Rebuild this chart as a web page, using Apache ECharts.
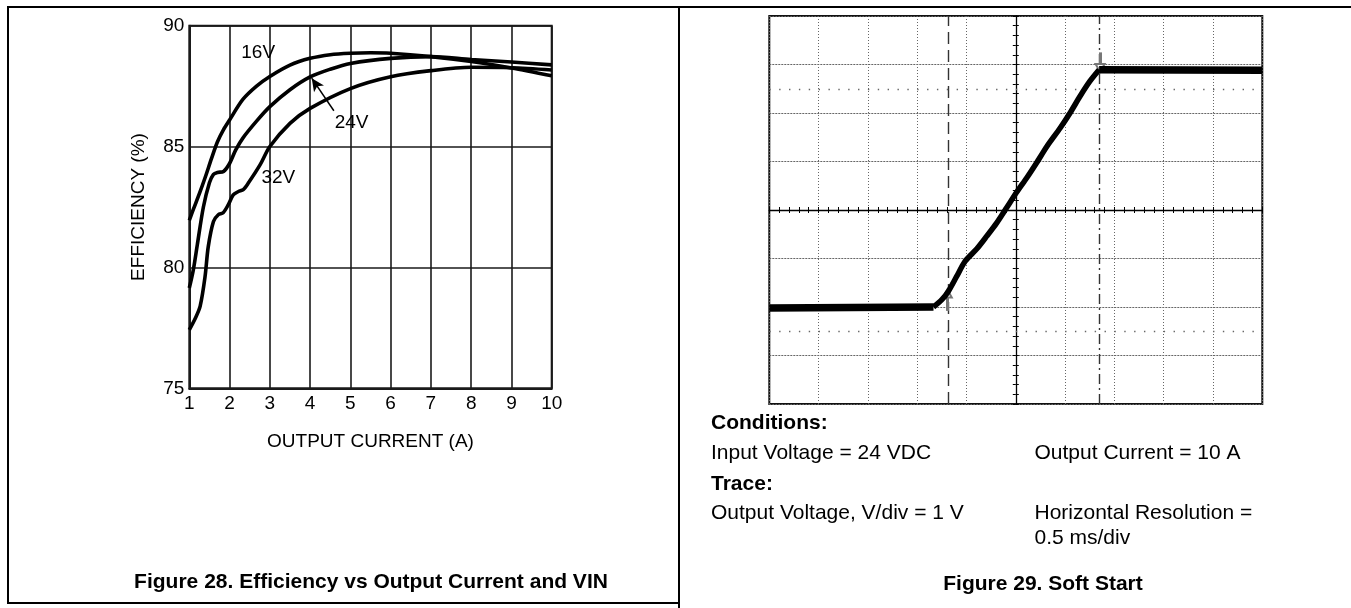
<!DOCTYPE html>
<html><head><meta charset="utf-8">
<script src="https://cdn.jsdelivr.net/npm/echarts/dist/echarts.min.js"></script>
<style>html,body{margin:0;padding:0;background:#fff}#c{width:1351px;height:608px}</style>
</head><body><div id="c"></div>
<script>
// ---------- Figure 28 data (efficiency vs output current) ----------
const seriesNames = ['16V', '24V', '32V'];
const cur16 = [1.0, 1.1, 1.25, 1.4, 1.55, 1.7, 1.85, 2.0, 2.33, 2.67, 3.0, 3.5, 4.0, 4.5, 5.0, 5.5, 6.0, 7.0, 8.0, 9.0, 10.0];
const eff16 = [81.95, 82.4, 83.05, 83.75, 84.5, 85.2, 85.7, 86.1, 86.95, 87.5, 87.9, 88.37, 88.65, 88.8, 88.86, 88.88, 88.86, 88.72, 88.52, 88.25, 87.93];
const cur24 = [1.0, 1.1, 1.2, 1.35, 1.5, 1.6, 1.7, 1.85, 2.0, 2.15, 2.33, 2.67, 3.0, 3.5, 4.0, 4.5, 5.0, 6.0, 7.0, 8.0, 9.0, 10.0];
const eff24 = [79.15, 79.9, 80.95, 82.5, 83.5, 83.85, 83.93, 83.97, 84.3, 84.85, 85.35, 86.05, 86.65, 87.35, 87.88, 88.2, 88.44, 88.65, 88.72, 88.6, 88.5, 88.38];
const cur32 = [1.0, 1.15, 1.27, 1.39, 1.47, 1.6, 1.72, 1.84, 1.97, 2.09, 2.22, 2.34, 2.47, 2.76, 3.0, 3.5, 4.0, 5.0, 6.0, 7.0, 8.0, 9.0, 10.0];
const eff32 = [77.42, 77.9, 78.4, 79.6, 80.85, 81.9, 82.18, 82.26, 82.6, 83.0, 83.14, 83.22, 83.5, 84.25, 85.0, 85.96, 86.58, 87.4, 87.89, 88.14, 88.28, 88.26, 88.17];
const labelCur = [2.71, 5.03, 3.21];
const labelEff = [88.89, 85.97, 83.69];
const arrow24From = [4.59, 86.48];
const arrow24To = [4.04, 87.83];
const currentTicks = [1, 10, 1];   // min, max, step (A)
const effTicks = [75, 90, 5];      // min, max, step (%)

// ---------- Figure 29 data (soft start scope trace) ----------
const traceTimeMs = [-2.5, -0.835, -0.75, -0.685, -0.6, -0.515, -0.395, -0.295, -0.195, -0.095, 0.01, 0.11, 0.21, 0.315, 0.45, 0.55, 0.65, 0.75, 0.845, 2.5];
const traceVolt   = [-2.02, -2.0, -1.85, -1.68, -1.37, -1.06, -0.8, -0.54, -0.27, 0.04, 0.37, 0.66, 0.97, 1.31, 1.69, 2.0, 2.34, 2.65, 2.89, 2.88];
const cursorStartMs = -0.695;
const cursorEndMs = 0.855;
const arrowUp = [[-0.695, -2.08], [-0.695, -1.72]];
const arrowDown = [[0.855, 3.25], [0.855, 2.93]];
const scopeTime = [-2.5, 2.5, 0.5];  // ms, 0.5 ms/div
const scopeVolt = [-4, 4, 1];        // V, 1 V/div
const dotRows = [2.5, -2.5];

const FONT = '"Liberation Sans", Arial, sans-serif';
const zip = (a, b) => a.map((v, i) => [v, b[i]]);
const trace = zip(traceTimeMs, traceVolt);
const n = trace.length;

const chart = echarts.init(document.getElementById('c'), null, {renderer: 'canvas'});

const effLine = (name, xs, ys, extra) => Object.assign({
  name, type: 'line', xAxisIndex: 0, yAxisIndex: 0, data: zip(xs, ys),
  symbol: 'none', smooth: 0.3, lineStyle: {color: '#000', width: 3.6}, z: 4
}, extra || {});

const scopeLine = (data, width, smooth, extra) => Object.assign({
  type: 'line', xAxisIndex: 1, yAxisIndex: 1, data, symbol: 'none', smooth,
  lineStyle: {color: '#000', width}, z: 5
}, extra || {});

const option = {
  animation: false,
  backgroundColor: '#fff',
  grid: [
    {left: 189.3, right: 1351 - 551.7, top: 25.7, bottom: 608 - 388.3, show: true, borderColor: '#1a1a1a', borderWidth: 2, backgroundColor: 'transparent'},
    {left: 769.3, right: 1351 - 1262.3, top: 16, bottom: 608 - 404, show: true, borderColor: '#111', borderWidth: 2, backgroundColor: 'transparent'}
  ],
  xAxis: [
    {gridIndex: 0, type: 'value', min: currentTicks[0], max: currentTicks[1], interval: currentTicks[2],
      axisLine: {show: true, lineStyle: {color: '#1a1a1a', width: 2}}, axisTick: {show: false},
      axisLabel: {fontSize: 19, color: '#000', margin: 6, fontFamily: FONT},
      splitLine: {show: true, lineStyle: {color: '#1a1a1a', width: 1.6}},
      name: 'OUTPUT CURRENT (A)', nameLocation: 'middle', nameGap: 44,
      nameTextStyle: {fontSize: 19, color: '#000', fontFamily: FONT}},
    {gridIndex: 1, type: 'value', min: scopeTime[0], max: scopeTime[1], interval: scopeTime[2],
      axisLine: {show: true, onZero: true, lineStyle: {color: '#000', width: 1.3}},
      axisTick: {show: true, length: 3, lineStyle: {color: '#000', width: 1}},
      minorTick: {show: true, splitNumber: 5, length: 3, lineStyle: {color: '#000', width: 1}},
      axisLabel: {show: false},
      splitLine: {show: true, lineStyle: {color: '#666', width: 1, type: [1, 2]}}},
    {gridIndex: 1, type: 'value', min: scopeTime[0], max: scopeTime[1], interval: scopeTime[2], position: 'bottom', offset: -194,
      axisLine: {show: false, onZero: false},
      axisTick: {show: true, inside: true, length: 3, lineStyle: {color: '#000', width: 1}},
      minorTick: {show: true, splitNumber: 5, length: 3, lineStyle: {color: '#000', width: 1}},
      axisLabel: {show: false}, splitLine: {show: false}}
  ],
  yAxis: [
    {gridIndex: 0, type: 'value', min: effTicks[0], max: effTicks[1], interval: effTicks[2],
      axisLine: {show: true, lineStyle: {color: '#1a1a1a', width: 2}}, axisTick: {show: false},
      axisLabel: {fontSize: 19, color: '#000', margin: 5, fontFamily: FONT},
      splitLine: {show: true, lineStyle: {color: '#1a1a1a', width: 1.6}},
      name: 'EFFICIENCY (%)', nameLocation: 'middle', nameGap: 41, nameRotate: 90,
      nameTextStyle: {fontSize: 19, color: '#000', fontFamily: FONT}},
    {gridIndex: 1, type: 'value', min: scopeVolt[0], max: scopeVolt[1], interval: scopeVolt[2],
      axisLine: {show: true, onZero: true, lineStyle: {color: '#000', width: 1.3}},
      axisTick: {show: true, length: 3, lineStyle: {color: '#000', width: 1}},
      minorTick: {show: true, splitNumber: 5, length: 3, lineStyle: {color: '#000', width: 1}},
      axisLabel: {show: false},
      splitLine: {show: true, lineStyle: {color: '#666', width: 1, type: [2, 1]}}},
    {gridIndex: 1, type: 'value', min: scopeVolt[0], max: scopeVolt[1], interval: scopeVolt[2], position: 'left', offset: -246.5,
      axisLine: {show: false, onZero: false},
      axisTick: {show: true, inside: true, length: 3, lineStyle: {color: '#000', width: 1}},
      minorTick: {show: true, splitNumber: 5, length: 3, lineStyle: {color: '#000', width: 1}},
      axisLabel: {show: false}, splitLine: {show: false}}
  ],
  series: [
    effLine(seriesNames[0], cur16, eff16),
    effLine(seriesNames[1], cur24, eff24, {
      markLine: {silent: true, symbol: ['none', 'arrow'], symbolSize: [9, 13], label: {show: false},
        lineStyle: {color: '#000', width: 1.5, type: 'solid'},
        data: [[{coord: arrow24From}, {coord: arrow24To}]]}
    }),
    effLine(seriesNames[2], cur32, eff32, {
      markPoint: {silent: true, symbol: 'circle', symbolSize: 0, itemStyle: {color: '#000'},
        label: {show: true, position: 'inside', formatter: p => p.name, fontSize: 19, color: '#000',
          textBorderWidth: 0, fontFamily: FONT},
        data: seriesNames.map((nm, i) => ({name: nm, coord: [labelCur[i], labelEff[i]]}))}
    }),
    // noisy flat levels drawn as a thicker band, the ramp a little thinner
    scopeLine(trace.slice(0, 2), 7.5, false),
    scopeLine(trace.slice(n - 2), 7.5, false),
    scopeLine(trace.slice(1, n - 1), 5.5, 0.25, {
      markLine: {silent: true, symbol: ['none', 'none'], label: {show: false}, animation: false,
        data: [
          {xAxis: cursorStartMs, lineStyle: {color: '#333', width: 1.4, type: [12, 6]}},
          {xAxis: cursorEndMs, lineStyle: {color: '#333', width: 1.4, type: [10, 4, 2, 4]}},
          {yAxis: dotRows[0], lineStyle: {color: '#666', width: 1.4, type: [1.4, 8.46]}},
          {yAxis: dotRows[1], lineStyle: {color: '#666', width: 1.4, type: [1.4, 8.46]}}
        ]}}),
    {type: 'line', xAxisIndex: 1, yAxisIndex: 1, data: [], symbol: 'none', z: 6,
      markLine: {silent: true, symbol: ['none', 'emptyTriangle'], symbolSize: [9, 8], label: {show: false},
        lineStyle: {color: '#777', width: 3, type: 'solid'},
        data: [[{coord: arrowUp[0]}, {coord: arrowUp[1]}], [{coord: arrowDown[0]}, {coord: arrowDown[1]}]]}}
  ],
  graphic: [
    {type: 'polyline', shape: {points: [[679, 603], [8, 603], [8, 7], [1351, 7]]}, style: {stroke: '#000', lineWidth: 2, fill: null}},
    {type: 'line', shape: {x1: 679, y1: 7, x2: 679, y2: 608}, style: {stroke: '#000', lineWidth: 2}},
    {type: 'text', x: 371, y: 582, style: {text: 'Figure 28. Efficiency vs Output Current and VIN', font: 'bold 21px ' + FONT, fill: '#000', textAlign: 'center', textVerticalAlign: 'middle'}},
    {type: 'text', x: 711, y: 423, style: {text: 'Conditions:', font: 'bold 21px ' + FONT, fill: '#000', textVerticalAlign: 'middle'}},
    {type: 'text', x: 711, y: 453, style: {text: 'Input Voltage = 24 VDC', font: '21px ' + FONT, fill: '#000', textVerticalAlign: 'middle'}},
    {type: 'text', x: 1034.5, y: 453, style: {text: 'Output Current = 10 A', font: '21px ' + FONT, fill: '#000', textVerticalAlign: 'middle'}},
    {type: 'text', x: 711, y: 484, style: {text: 'Trace:', font: 'bold 21px ' + FONT, fill: '#000', textVerticalAlign: 'middle'}},
    {type: 'text', x: 711, y: 513, style: {text: 'Output Voltage, V/div = 1 V', font: '21px ' + FONT, fill: '#000', textVerticalAlign: 'middle'}},
    {type: 'text', x: 1034.5, y: 513, style: {text: 'Horizontal Resolution =', font: '21px ' + FONT, fill: '#000', textVerticalAlign: 'middle'}},
    {type: 'text', x: 1034.5, y: 538, style: {text: '0.5 ms/div', font: '21px ' + FONT, fill: '#000', textVerticalAlign: 'middle'}},
    {type: 'text', x: 1043, y: 584, style: {text: 'Figure 29. Soft Start', font: 'bold 21px ' + FONT, fill: '#000', textAlign: 'center', textVerticalAlign: 'middle'}}
  ]
};
chart.setOption(option);
</script>
</body></html>
